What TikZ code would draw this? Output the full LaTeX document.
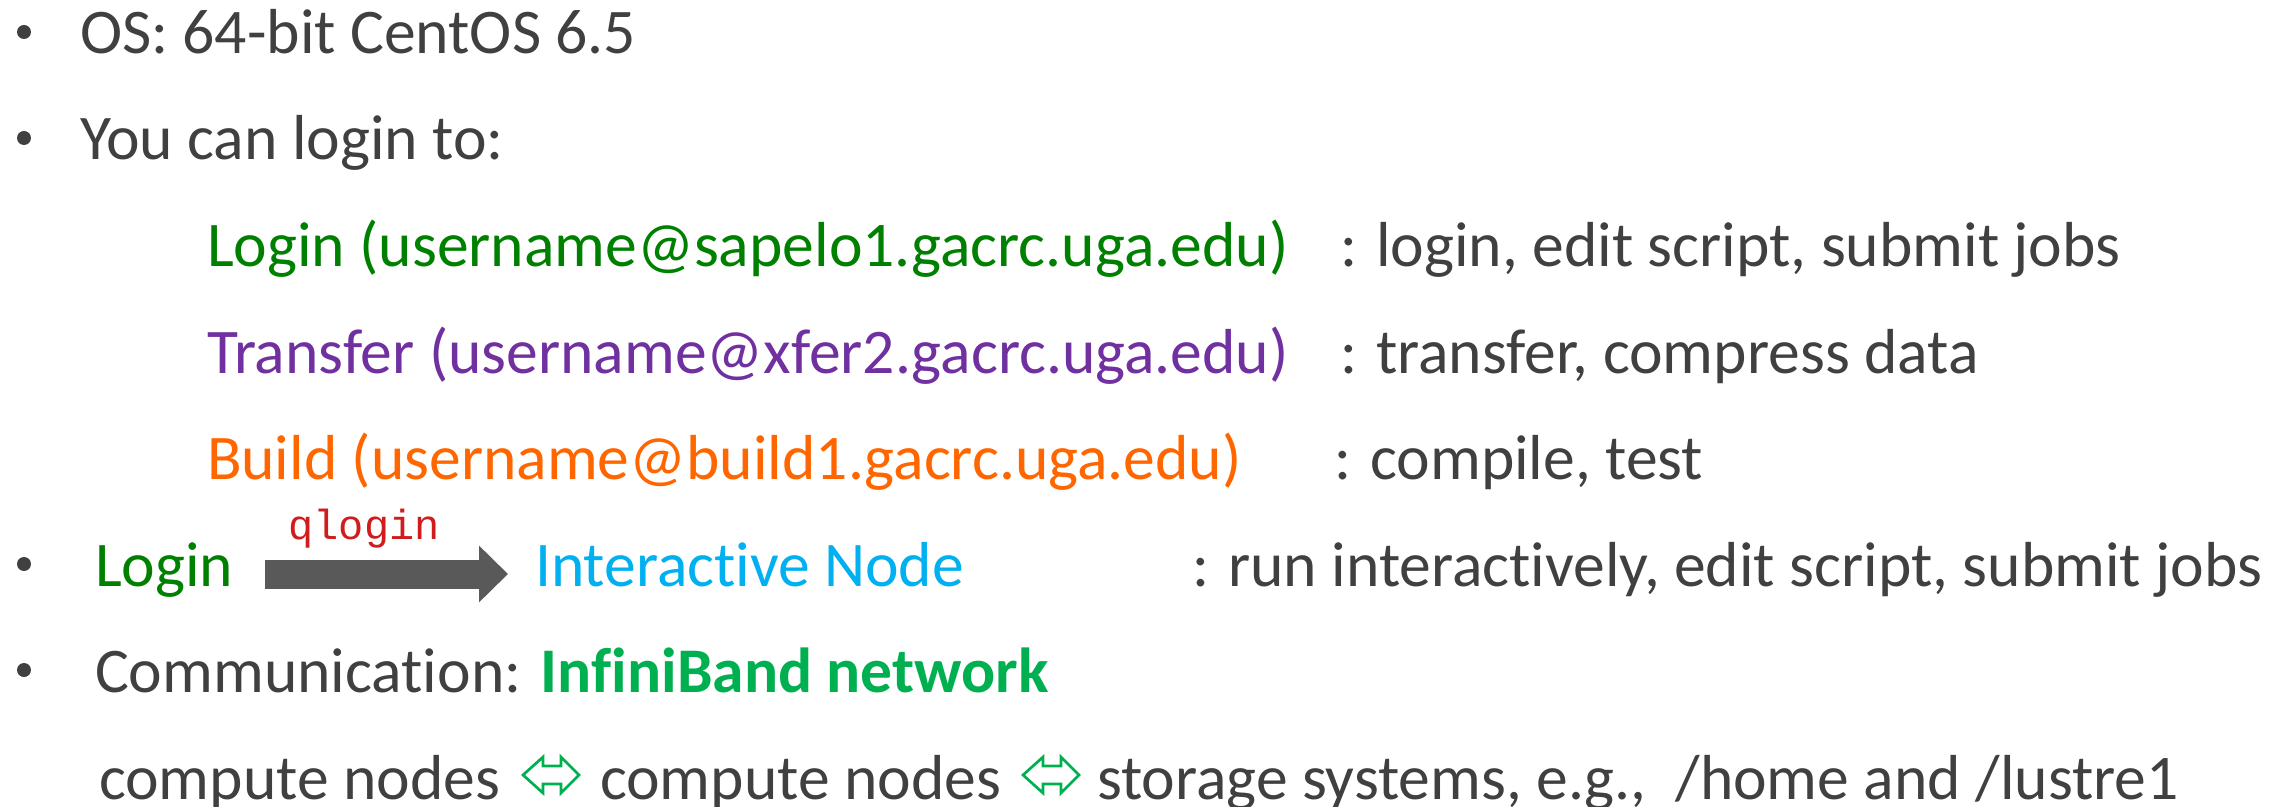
\documentclass[tikz,border=0pt]{standalone}
\usepackage{fontspec}
\setmainfont{Carlito}[Ligatures={NoCommon,NoContextual}]
\newfontfamily\monof{Liberation Mono}
\usetikzlibrary{arrows.meta}
\definecolor{txtgray}{HTML}{404040}
\definecolor{logingreen}{HTML}{008000}
\definecolor{xferpurple}{HTML}{7030A0}
\definecolor{buildorange}{HTML}{FF6600}
\definecolor{intcyan}{HTML}{00B0F0}
\definecolor{ibgreen}{HTML}{00B050}
\definecolor{arrowgray}{HTML}{595959}
\definecolor{qred}{HTML}{D01C1C}
\begin{document}
\begin{tikzpicture}[x=0.5pt,y=-0.5pt,
  txt/.style={anchor=base west,inner sep=0pt,outer sep=0pt,font=\fontsize{31.8pt}{38pt}\selectfont,text=txtgray},
  bul/.style={circle,fill=txtgray,inner sep=0pt,minimum size=7pt},
  qlab/.style={anchor=base west,inner sep=0pt,font=\monof\fontsize{21pt}{24pt}\selectfont,text=qred},
  qarrow/.style={draw=arrowgray,line width=14.5pt,-{Triangle[length=14.5pt,width=27.5pt,fill=arrowgray]}},
  dblarrow/.pic={\draw[ibgreen,line width=1.35pt,line join=miter]
     (0,0) -- (20,-18) -- (20,-9) -- (38,-9) -- (38,-18) -- (56,0) -- (38,18) -- (38,9) -- (20,9) -- (20,18) -- cycle;},
]
\useasboundingbox (0,0) rectangle (2284,807);
% line 1
\node[bul] (b1) at (24,32) {};
\node[txt] (os) at (80,54) {OS: 64-bit CentOS 6.5};
% line 2
\node[bul] (b2) at (24,138) {};
\node[txt] (can) at (80,160) {You can login to:};
% login hosts
\node[txt,text=logingreen] (lg) at (207,267) {Login (username@sapelo1.gacrc.uga.edu)};
\node[txt] (lgd) at (1340,267) {: login, edit script, submit jobs};
\node[txt,text=xferpurple] (xf) at (207,373) {Transfer (username@xfer2.gacrc.uga.edu)};
\node[txt] (xfd) at (1340,373) {: transfer, compress data};
\node[txt,text=buildorange] (bd) at (207,479) {Build (username@build1.gacrc.uga.edu)};
\node[txt] (bdd) at (1334,479) {: compile, test};
% qlogin line
\node[bul] (b3) at (24,564) {};
\node[txt,text=logingreen] (lg2) at (95,586) {Login};
\node[txt,text=intcyan] (inter) at (535,586) {Interactive Node};
\node[txt] (interd) at (1192,586) {: run interactively, edit script, submit jobs};
\draw[qarrow] ([shift={(32,-12)}]lg2.base east) -- ([shift={(-27,-12)}]inter.base west);
\node[qlab] (ql) at (288,539) {qlogin};
% communication
\node[bul] (b4) at (24,670) {};
\node[txt] (comm) at (95,692) {Communication: {\bfseries\color{ibgreen}InfiniBand network}};
\node[txt] (cn1) at (99,799) {compute nodes};
\node[txt] (cn2) at (600,799) {compute nodes};
\node[txt] (cn3) at (1097,799) {storage systems, e.g.,\ \ /home and /lustre1};
\pic at (523,775) {dblarrow};
\pic at (1023,775) {dblarrow};
\end{tikzpicture}
\end{document}
